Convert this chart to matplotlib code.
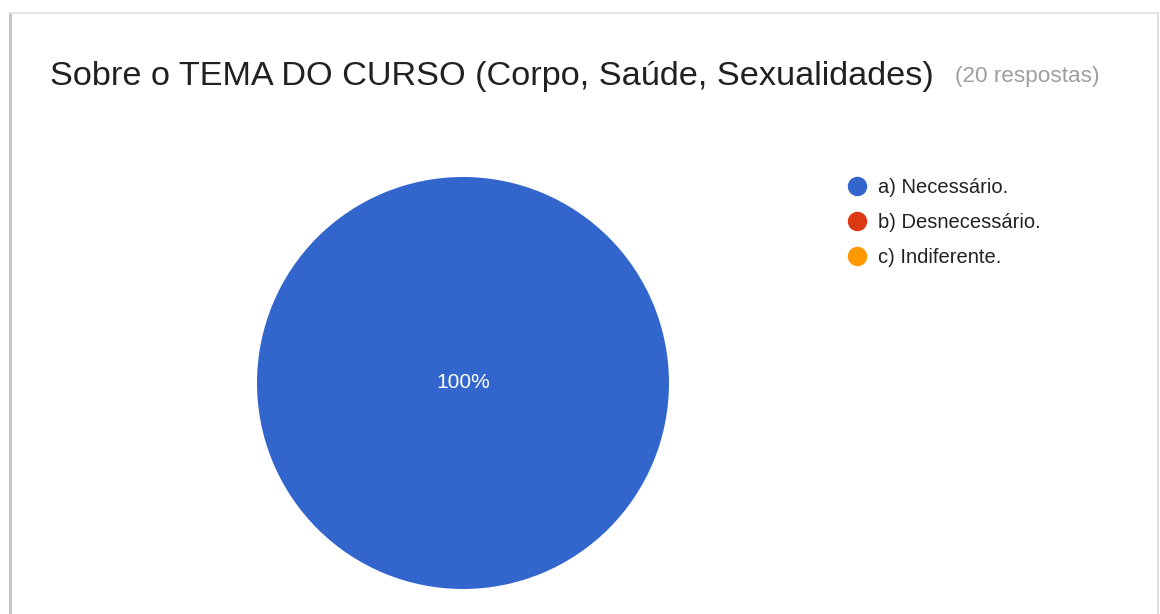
import matplotlib
matplotlib.use("Agg")
import matplotlib.pyplot as plt
from matplotlib.lines import Line2D

plt.rcParams['font.family'] = ['Liberation Sans', 'DejaVu Sans']

# data
categories = ['a) Necessário.', 'b) Desnecessário.', 'c) Indiferente.']
counts = [20, 0, 0]
colors = ['#3366cc', '#dc3912', '#ff9900']
title = 'Sobre o TEMA DO CURSO (Corpo, Saúde, Sexualidades)'
subtitle = '(20 respostas)'

W, H = 1160, 614
fig = plt.figure(figsize=(W / 100, H / 100), dpi=100)
fig.patch.set_facecolor('white')

# card border (left shadow, top and right edges)
fig.add_artist(Line2D([10 / W, 10 / W], [0, 1 - 13 / H], color='#c4c4c4', lw=2.2))
fig.add_artist(Line2D([10 / W, 1158 / W], [1 - 13 / H, 1 - 13 / H], color='#e4e4e4', lw=1.5))
fig.add_artist(Line2D([1158 / W, 1158 / W], [0, 1 - 13 / H], color='#e0e0e0', lw=1.5))

# titles
fig.text(50 / W, 1 - 85 / H, title, fontsize=24.7, color='#212121', va='baseline')
fig.text(955 / W, 1 - 82 / H, subtitle, fontsize=16.2, color='#9e9e9e', va='baseline')

# pie
cx, cy, r = 463, 383, 206
ax = fig.add_axes([(cx - r) / W, (H - cy - r) / H, 2 * r / W, 2 * r / H])
wedges, texts, autotexts = ax.pie(
    counts, colors=colors, startangle=90, counterclock=False,
    autopct=lambda p: f'{p:.0f}%' if p > 0 else '',
    pctdistance=0.0, wedgeprops=dict(linewidth=0),
    textprops=dict(color='white', fontsize=15))
ax.set_xlim(-1, 1)
ax.set_ylim(-1, 1)
ax.set_aspect('equal')
ax.axis('off')

# legend
handles = [Line2D([], [], marker='o', linestyle='none', markersize=13,
                  markerfacecolor=c, markeredgecolor=c) for c in colors]
fig.legend(handles, categories, loc='upper left',
           bbox_to_anchor=(848 / W, 1 - 178 / H), frameon=False,
           fontsize=14.5, labelcolor='#222222', handlelength=0.85,
           handletextpad=0.62, labelspacing=0.8, borderpad=0, borderaxespad=0)

fig.savefig('out.png', dpi=100)
